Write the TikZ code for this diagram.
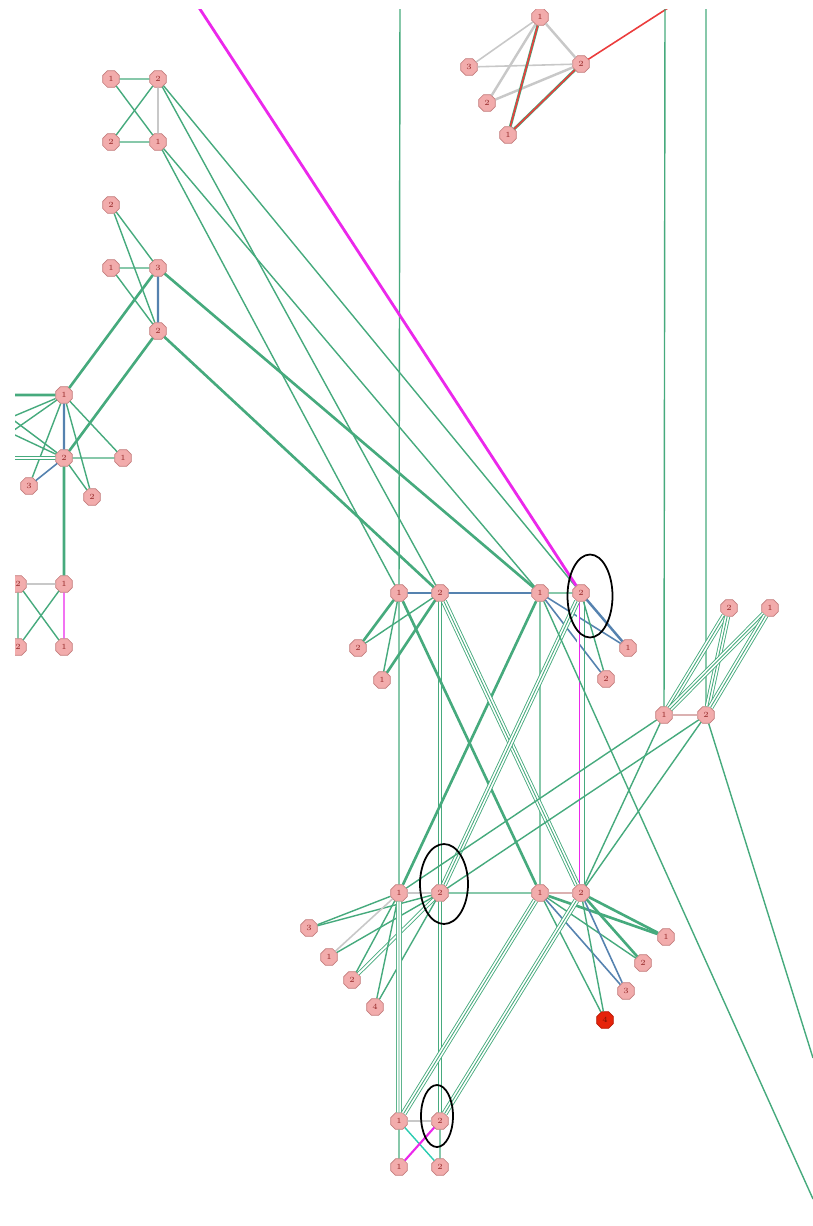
\documentclass[tikz,border=0pt]{standalone}
\usetikzlibrary{shapes.geometric}
\definecolor{edgegreen}{RGB}{70,170,125}
\definecolor{edgeblue}{RGB}{85,130,175}
\definecolor{edgegrey}{RGB}{200,200,200}
\definecolor{edgemag}{RGB}{235,40,235}
\definecolor{edgered}{RGB}{235,60,60}
\definecolor{vtxfill}{RGB}{242,172,172}
\definecolor{vtxborder}{RGB}{195,125,125}
\definecolor{vtxtext}{RGB}{150,40,40}
\definecolor{hotred}{RGB}{230,35,10}
\begin{document}
\begin{tikzpicture}[
  x=0.02cm,y=-0.02cm,
  vtx/.style={regular polygon, regular polygon sides=8, draw=vtxborder, fill=vtxfill, minimum size=0.36cm, inner sep=0pt, font=\fontsize{4.5}{4.5}\selectfont, text=vtxtext},
  hot/.style={vtx, fill=hotred, draw=hotred!80!black, text=hotred!50!black},
  edge/.style={draw=edgegreen, line width=0.8pt},
  bold/.style={draw=edgegreen, line width=1.5pt},
  blueedge/.style={draw=edgeblue, line width=0.9pt},
  greyedge/.style={draw=edgegrey, line width=0.9pt},
  magedge/.style={draw=edgemag, line width=1.2pt},
  rededge/.style={draw=edgered, line width=0.9pt},
  dbl/.style={draw=edgegreen, line width=0.5pt, double=white, double distance=1.1pt},
  tri/.style={draw=edgegreen, line width=0.5pt, double=white, double distance=2.4pt},
  mark ring/.style={draw=black, line width=1pt}
]
\useasboundingbox (0,0) rectangle (813,1226);
\clip (15,10) rectangle (813,1215);

% upper left groups
\node[vtx] (A1) at (111,79) {1};
\node[vtx] (A2) at (158,79) {2};
\node[vtx] (A3) at (111,142) {2};
\node[vtx] (A4) at (158,142) {1};
\node[vtx] (B1) at (111,205) {2};
\node[vtx] (B2) at (111,268) {1};
\node[vtx] (B3) at (158,268) {3};
\node[vtx] (B4) at (158,331) {2};
\node[vtx] (C1) at (64,395) {1};
\node[vtx] (C2) at (64,458) {2};
\node[vtx] (C3) at (123,458) {1};
\node[vtx] (C4) at (29,486) {3};
\node[vtx] (C5) at (92,497) {2};
\node[vtx] (D1) at (64,584) {1};
\node[vtx] (D2) at (18,584) {2};
\node[vtx] (D3) at (18,647) {2};
\node[vtx] (D4) at (64,647) {1};

% top right group
\node[vtx] (E1) at (540,17) {1};
\node[vtx] (E2) at (581,64) {2};
\node[vtx] (E3) at (469,67) {3};
\node[vtx] (E4) at (487,103) {2};
\node[vtx] (E5) at (508,135) {1};

% middle rows
\node[vtx] (F1) at (399,593) {1};
\node[vtx] (F2) at (440,593) {2};
\node[vtx] (F3) at (540,593) {1};
\node[vtx] (F4) at (581,593) {2};
\node[vtx] (F5) at (358,648) {2};
\node[vtx] (F6) at (382,680) {1};
\node[vtx] (F7) at (628,648) {1};
\node[vtx] (F8) at (606,679) {2};
\node[vtx] (G1) at (729,608) {2};
\node[vtx] (G2) at (770,608) {1};
\node[vtx] (G3) at (664,715) {1};
\node[vtx] (G4) at (706,715) {2};
\node[vtx] (H1) at (399,893) {1};
\node[vtx] (H2) at (440,893) {2};
\node[vtx] (H3) at (540,893) {1};
\node[vtx] (H4) at (581,893) {2};
\node[vtx] (H5) at (309,928) {3};
\node[vtx] (H6) at (329,957) {1};
\node[vtx] (H7) at (352,980) {2};
\node[vtx] (H8) at (375,1007) {4};
\node[vtx] (H9) at (666,937) {1};
\node[vtx] (H10) at (643,963) {2};
\node[vtx] (H11) at (626,991) {3};
\node[hot] (H12) at (605,1020) {4};
\node[vtx] (I1) at (399,1121) {1};
\node[vtx] (I2) at (440,1121) {2};
\node[vtx] (I3) at (399,1167) {1};
\node[vtx] (I4) at (440,1167) {2};

% loose ends at the border
\coordinate (T1) at (400,0);
\coordinate (T2) at (665,0);
\coordinate (T3) at (706,0);
\coordinate (T4) at (194,0);
\coordinate (T5) at (668,8);
\coordinate (R1) at (813,1199);
\coordinate (R2) at (813,1058);
\coordinate (L1) at (0,395);
\coordinate (L2) at (0,458);
\coordinate (L3) at (0,422);
\coordinate (L4) at (0,440);
\coordinate (L5) at (0,410);
\coordinate (L6) at (0,428);

% upper left
\draw[edge] (A1) -- (A2); \draw[edge] (A3) -- (A4);
\draw[edge] (A1) -- (A4); \draw[edge] (A3) -- (A2);
\draw[greyedge] (A2) -- (A4);
\draw[edge] (A2) -- (F2); \draw[edge] (A2) -- (F4);
\draw[edge] (A4) -- (F1); \draw[edge] (A4) -- (F3);
\draw[edge] (B2) -- (B3); \draw[edge] (B1) -- (B3);
\draw[edge] (B1) -- (B4); \draw[edge] (B2) -- (B4);
\draw[blueedge, line width=1.3pt] (B3) -- (B4);
\draw[bold] (B3) -- (F3); \draw[bold] (B4) -- (F2);
\draw[bold] (C1) -- (B3); \draw[bold] (C2) -- (B4);
\draw[blueedge, line width=1.3pt] (C1) -- (C2);
\draw[edge] (C2) -- (C3); \draw[blueedge] (C2) -- (C4);
\draw[edge] (C1) -- (C4); \draw[edge] (C1) -- (C5);
\draw[edge] (C1) -- (C3); \draw[edge] (C2) -- (C5);
\draw[bold] (C2) -- (D1);
\draw[bold] (L1) -- (C1); \draw[dbl] (L2) -- (C2);
\draw[edge] (L3) -- (C1); \draw[edge] (L4) -- (C1);
\draw[edge] (L5) -- (C2); \draw[edge] (L6) -- (C2);
\draw[greyedge] (D2) -- (D1); \draw[magedge, line width=0.8pt] (D1) -- (D4);
\draw[edge] (D1) -- (D3); \draw[edge] (D2) -- (D4);
\draw[edge] (D2) -- (D3);

% top right
\draw[greyedge] (E3) -- (E1); \draw[greyedge] (E3) -- (E2);
\draw[greyedge, line width=1.4pt] (E4) -- (E1); \draw[greyedge, line width=1.4pt] (E4) -- (E2);
\draw[greyedge, line width=1.4pt] (E1) -- (E2);
\draw[edge, line width=1.6pt] (E1) -- (E5); \draw[rededge] (E1) -- (E5);
\draw[edge, line width=1.6pt] (E5) -- (E2); \draw[rededge] (E5) -- (E2);
\draw[rededge] (E2) -- (T5);

% long verticals and the magenta line
\draw[edge] (T1) -- (F1);
\draw[edge] (T2) -- (G3);
\draw[edge] (T3) -- (G4);
\draw[magedge, line width=1.6pt] (T4) -- (F4);

% middle
\draw[blueedge] (F1) -- (F2); \draw[blueedge] (F2) -- (F3);
\draw[edge] (F3) -- (F4);
\draw[bold] (F5) -- (F1); \draw[edge] (F5) -- (F2);
\draw[edge] (F6) -- (F1); \draw[bold] (F6) -- (F2);
\draw[blueedge] (F3) -- (F7); \draw[blueedge, line width=1.4pt] (F4) -- (F7);
\draw[blueedge] (F3) -- (F8); \draw[edge] (F4) -- (F8);
\draw[edge] (F1) -- (H1); \draw[dbl] (F2) -- (H2);
\draw[edge] (F3) -- (H3);
\draw[magedge, line width=0.5pt, double=white, double distance=1pt] ([xshift=-1.5pt]F4.south) -- ([xshift=-1.5pt]H4.north);
\draw[edge] ([xshift=2pt]F4.south) -- ([xshift=2pt]H4.north);
\draw[bold] (F1) -- (H3); \draw[bold] (H1) -- (F3);
\draw[tri] (F2) -- (H4); \draw[edge, line width=0.5pt] (F2) -- (H4);
\draw[tri] (H2) -- (F4); \draw[edge, line width=0.5pt] (H2) -- (F4);
\draw[edge] (F3) -- (R1);

% right group
\draw[tri] (G1) -- (G3); \draw[edge, line width=0.5pt] (G1) -- (G3);
\draw[tri] (G1) -- (G4); \draw[edge, line width=0.5pt] (G1) -- (G4);
\draw[tri] (G2) -- (G3); \draw[edge, line width=0.5pt] (G2) -- (G3);
\draw[tri] (G2) -- (G4); \draw[edge, line width=0.5pt] (G2) -- (G4);
\draw[greyedge, draw=vtxborder!60] (G3) -- (G4);
\draw[edge] (G3) -- (H1); \draw[edge] (G4) -- (H2);
\draw[edge] (G3) -- (H4); \draw[edge] (G4) -- (H4);
\draw[edge] (G4) -- (R2);

% lower row
\draw[greyedge] (H1) -- (H2); \draw[edge] (H2) -- (H3);
\draw[greyedge, draw=vtxborder!60] (H3) -- (H4);
\draw[edge] (H5) -- (H1); \draw[edge] (H5) -- (H2);
\draw[greyedge] (H6) -- (H1); \draw[edge] (H6) -- (H2);
\draw[edge] (H7) -- (H1); \draw[dbl] (H7) -- (H2);
\draw[edge] (H8) -- (H1); \draw[edge] (H8) -- (H2);
\draw[bold] (H3) -- (H9); \draw[bold] (H4) -- (H9);
\draw[edge] (H3) -- (H10); \draw[bold] (H4) -- (H10);
\draw[blueedge] (H3) -- (H11); \draw[blueedge] (H4) -- (H11);
\draw[edge] (H3) -- (H12); \draw[edge] (H4) -- (H12);
\draw[tri] (H1) -- (I1); \draw[edge, line width=0.5pt] (H1) -- (I1);
\draw[dbl] (H2) -- (I2);
\draw[tri] (H3) -- (I1); \draw[edge, line width=0.5pt] (H3) -- (I1);
\draw[tri] (H4) -- (I2); \draw[edge, line width=0.5pt] (H4) -- (I2);

% bottom group
\draw[greyedge] (I1) -- (I2);
\draw[edge] (I1) -- (I3); \draw[edge] (I2) -- (I4);
\draw[edge, draw=edgegreen!60!cyan] (I1) -- (I4);
\draw[magedge] (I2) -- (I3);

% rings
\draw[mark ring] (590,596) ellipse [x radius=0.45cm, y radius=0.83cm];
\draw[mark ring] (444,884) ellipse [x radius=0.48cm, y radius=0.8cm];
\draw[mark ring] (437,1116) ellipse [x radius=0.32cm, y radius=0.62cm];
\end{tikzpicture}
\end{document}
